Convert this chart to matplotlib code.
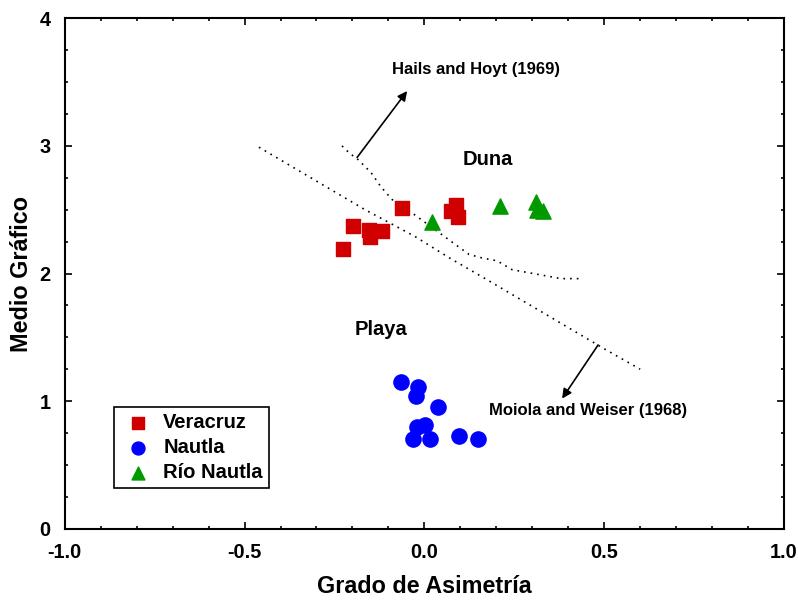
import matplotlib
matplotlib.use('Agg')
import matplotlib.pyplot as plt
from matplotlib.ticker import MultipleLocator

plt.rcParams['font.family'] = ['Liberation Sans', 'DejaVu Sans']
plt.rcParams['font.weight'] = 'bold'

# sample points (Grado de Asimetria, Medio Grafico)
veracruz_x = [-0.226, -0.198, -0.154, -0.151, -0.118, -0.062, 0.074, 0.088, 0.094]
veracruz_y = [2.19, 2.37, 2.34, 2.29, 2.33, 2.51, 2.49, 2.54, 2.44]

nautla_x = [-0.065, -0.018, -0.023, 0.038, -0.020, 0.002, -0.032, 0.016, 0.096, 0.149]
nautla_y = [1.15, 1.11, 1.04, 0.95, 0.80, 0.81, 0.70, 0.70, 0.73, 0.70]

rio_x = [0.021, 0.210, 0.310, 0.313, 0.330]
rio_y = [2.40, 2.53, 2.56, 2.50, 2.49]

# boundary lines
hails_x = [-0.229, -0.207, -0.187, -0.148, -0.121, -0.090, -0.032, 0.046, 0.124,
           0.163, 0.202, 0.244, 0.322, 0.380, 0.438]
hails_y = [3.00, 2.94, 2.90, 2.79, 2.68, 2.58, 2.47, 2.31, 2.15,
           2.12, 2.10, 2.03, 1.99, 1.96, 1.96]

moiola_x = [-0.460, -0.165, -0.026, 0.071, 0.169, 0.422, 0.500, 0.600]
moiola_y = [2.99, 2.50, 2.29, 2.12, 1.96, 1.54, 1.41, 1.25]

fig = plt.figure(figsize=(7.98, 6.0), dpi=100)
ax = fig.add_axes([0.0811, 0.1188, 0.9825 - 0.0811, 0.9695 - 0.1188])

ax.plot(hails_x, hails_y, color='k', lw=1.2, linestyle=(0, (1, 3)))
ax.plot(moiola_x, moiola_y, color='k', lw=1.2, linestyle=(0, (1, 3)))

ax.scatter(veracruz_x, veracruz_y, marker='s', s=105, color='#d00000', label='Veracruz', zorder=3)
ax.scatter(nautla_x, nautla_y, marker='o', s=120, color='#0000ff', label='Nautla', zorder=3)
ax.scatter(rio_x, rio_y, marker='^', s=120, color='#009a00', label='Río Nautla', zorder=3)

arrow = dict(arrowstyle='-|>', color='k', lw=1.2, mutation_scale=14, shrinkA=0, shrinkB=0)
ax.annotate('', xy=(-0.048, 3.43), xytext=(-0.187, 2.91), arrowprops=arrow)
ax.annotate('', xy=(0.383, 1.02), xytext=(0.483, 1.44), arrowprops=arrow)

ax.text(0.144, 3.60, 'Hails and Hoyt (1969)', fontsize=12, fontweight='bold', ha='center', va='center')
ax.text(0.454, 0.93, 'Moiola and Weiser (1968)', fontsize=12, fontweight='bold', ha='center', va='center')
ax.text(0.177, 2.89, 'Duna', fontsize=14.5, fontweight='bold', ha='center', va='center')
ax.text(-0.121, 1.56, 'Playa', fontsize=14.5, fontweight='bold', ha='center', va='center')

ax.set_xlim(-1, 1)
ax.set_ylim(0, 4)
ax.xaxis.set_major_locator(MultipleLocator(0.5))
ax.xaxis.set_minor_locator(MultipleLocator(0.1))
ax.yaxis.set_major_locator(MultipleLocator(1))
ax.yaxis.set_minor_locator(MultipleLocator(0.25))
ax.xaxis.set_major_formatter(plt.FuncFormatter(lambda v, p: f'{v:.1f}'))
ax.tick_params(which='both', direction='in', top=True, right=True, width=1.2)
ax.tick_params(which='major', length=5, labelsize=14.3, pad=10)
ax.tick_params(which='minor', length=2.5)
for lab in ax.get_xticklabels() + ax.get_yticklabels():
    lab.set_fontweight('bold')
for sp in ax.spines.values():
    sp.set_linewidth(1.5)

ax.set_xlabel('Grado de Asimetría', fontsize=16.8, fontweight='bold', labelpad=10)
ax.set_ylabel('Medio Gráfico', fontsize=16.8, fontweight='bold', labelpad=5)

leg = ax.legend(loc='lower left', bbox_to_anchor=(0.0685, 0.0797), borderaxespad=0,
                prop={'size': 14.5, 'weight': 'bold'}, fancybox=False, framealpha=1,
                edgecolor='k', handletextpad=0.35, labelspacing=0.3, borderpad=0.3,
                handlelength=1.8, scatterpoints=1, markerscale=0.85)
leg.get_frame().set_linewidth(1.2)

fig.savefig('out.png', dpi=100)
